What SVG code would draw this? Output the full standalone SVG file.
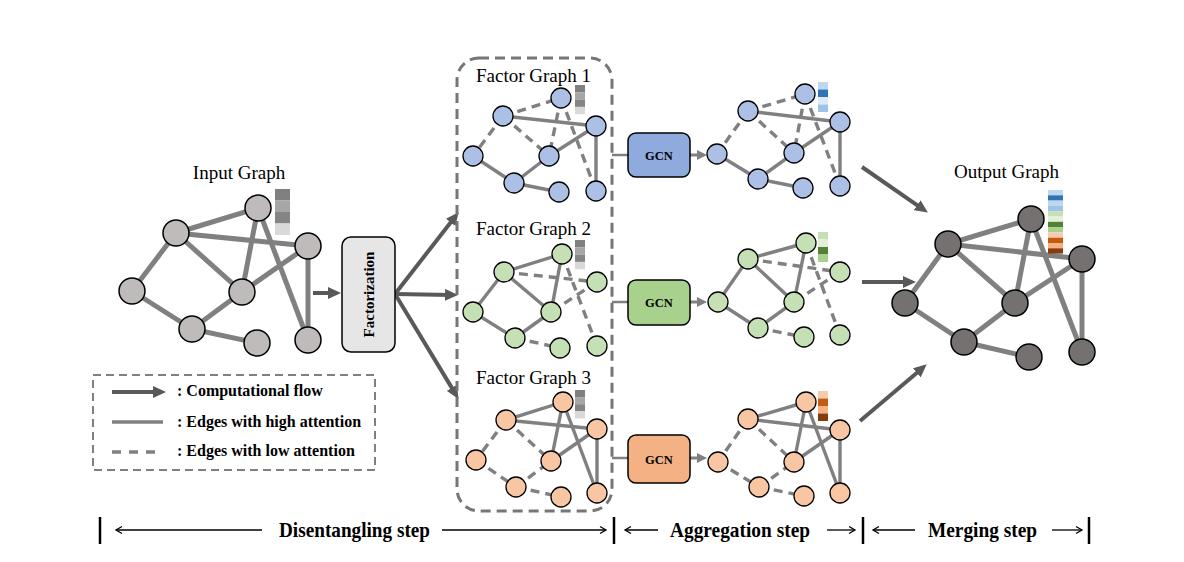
<svg xmlns="http://www.w3.org/2000/svg" width="1184" height="562" viewBox="0 0 1184 562">
<defs>
<style>
.t{font-family:"Liberation Serif","Times New Roman",serif;fill:#000}
.title{font-size:19px;text-anchor:middle}
.b{font-weight:bold}
.eb{stroke:#808080;stroke-width:5;fill:none}
.es{stroke:#808080;stroke-width:3.4;fill:none}
.ed{stroke:#808080;stroke-width:3.4;fill:none;stroke-dasharray:9 6}
.flow{stroke:#595959;stroke-width:4;fill:none;marker-end:url(#ah)}
.gflow{stroke:#808080;stroke-width:3;fill:none;marker-end:url(#gh)}
.thin{stroke:#000;stroke-width:1.3;fill:none}
.ng{fill:#bfbbbb;stroke:#000;stroke-width:1.5}
.no{fill:#767171;stroke:#000;stroke-width:1.5}
.nb{fill:#abc0e4;stroke:#000;stroke-width:1.3}
.nv{fill:#c5e0b4;stroke:#000;stroke-width:1.3}
.nr{fill:#f8c6a3;stroke:#000;stroke-width:1.3}
</style>
<marker id="ah" markerUnits="userSpaceOnUse" markerWidth="14" markerHeight="12" refX="6" refY="6" orient="auto" viewBox="0 0 14 12">
<path d="M0,0 L13,6 L0,12 z" fill="#595959"/>
</marker>
<marker id="gh" markerUnits="userSpaceOnUse" markerWidth="10" markerHeight="10" refX="4.5" refY="5" orient="auto" viewBox="0 0 10 10">
<path d="M0,0 L10,5 L0,10 z" fill="#808080"/>
</marker>
</defs>

<g id="connectors">
<g id="input-edges" class="eb">
<line x1="176" y1="233" x2="258" y2="208"/>
<line x1="176" y1="233" x2="308" y2="246"/>
<line x1="176" y1="233" x2="132" y2="291"/>
<line x1="176" y1="233" x2="242" y2="292"/>
<line x1="258" y1="208" x2="242" y2="292"/>
<line x1="258" y1="208" x2="308" y2="340"/>
<line x1="308" y1="246" x2="242" y2="292"/>
<line x1="308" y1="246" x2="308" y2="340"/>
<line x1="132" y1="291" x2="192" y2="329"/>
<line x1="192" y1="329" x2="242" y2="292"/>
<line x1="192" y1="329" x2="257" y2="343"/>
</g>
<g id="output-edges" class="eb">
<line x1="948" y1="244" x2="1031" y2="219"/>
<line x1="948" y1="244" x2="1082" y2="259"/>
<line x1="948" y1="244" x2="905" y2="303"/>
<line x1="948" y1="244" x2="1015" y2="303"/>
<line x1="1031" y1="219" x2="1015" y2="303"/>
<line x1="1031" y1="219" x2="1082" y2="352"/>
<line x1="1082" y1="259" x2="1015" y2="303"/>
<line x1="1082" y1="259" x2="1082" y2="352"/>
<line x1="905" y1="303" x2="964" y2="342"/>
<line x1="964" y1="342" x2="1015" y2="303"/>
<line x1="964" y1="342" x2="1029" y2="357"/>
</g>
<g id="fg1-edges">
<line class="ed" x1="503" y1="116" x2="561" y2="98"/>
<line class="es" x1="503" y1="116" x2="596" y2="126"/>
<line class="ed" x1="503" y1="116" x2="473" y2="156"/>
<line class="ed" x1="503" y1="116" x2="549" y2="156"/>
<line class="ed" x1="561" y1="98" x2="549" y2="156"/>
<line class="ed" x1="561" y1="98" x2="596" y2="191"/>
<line class="es" x1="596" y1="126" x2="549" y2="156"/>
<line class="es" x1="596" y1="126" x2="596" y2="191"/>
<line class="es" x1="473" y1="156" x2="514" y2="183"/>
<line class="es" x1="514" y1="183" x2="549" y2="156"/>
<line class="es" x1="514" y1="183" x2="559" y2="192"/>
</g>
<g id="fg2-edges">
<line class="es" x1="504" y1="272" x2="562" y2="254"/>
<line class="ed" x1="504" y1="272" x2="597" y2="282"/>
<line class="es" x1="504" y1="272" x2="473" y2="312"/>
<line class="es" x1="504" y1="272" x2="551" y2="312"/>
<line class="es" x1="562" y1="254" x2="551" y2="312"/>
<line class="ed" x1="562" y1="254" x2="597" y2="346"/>
<line class="ed" x1="597" y1="282" x2="551" y2="312"/>
<line class="es" x1="473" y1="312" x2="515" y2="338"/>
<line class="es" x1="515" y1="338" x2="551" y2="312"/>
<line class="ed" x1="515" y1="338" x2="560" y2="348"/>
</g>
<g id="fg3-edges">
<line class="es" x1="506" y1="420" x2="563" y2="402"/>
<line class="es" x1="506" y1="420" x2="597" y2="429"/>
<line class="ed" x1="506" y1="420" x2="476" y2="460"/>
<line class="ed" x1="506" y1="420" x2="551" y2="461"/>
<line class="es" x1="563" y1="402" x2="551" y2="461"/>
<line class="es" x1="563" y1="402" x2="597" y2="493"/>
<line class="es" x1="597" y1="429" x2="551" y2="461"/>
<line class="es" x1="597" y1="429" x2="597" y2="493"/>
<line class="ed" x1="476" y1="460" x2="516" y2="487"/>
<line class="ed" x1="516" y1="487" x2="551" y2="461"/>
<line class="ed" x1="516" y1="487" x2="561" y2="497"/>
</g>
<g id="agg1-edges">
<line class="ed" x1="748" y1="111" x2="805" y2="94"/>
<line class="es" x1="748" y1="111" x2="840" y2="122"/>
<line class="ed" x1="748" y1="111" x2="717" y2="154"/>
<line class="ed" x1="748" y1="111" x2="794" y2="153"/>
<line class="ed" x1="805" y1="94" x2="794" y2="153"/>
<line class="ed" x1="805" y1="94" x2="840" y2="186"/>
<line class="es" x1="840" y1="122" x2="794" y2="153"/>
<line class="es" x1="840" y1="122" x2="840" y2="186"/>
<line class="es" x1="717" y1="154" x2="758" y2="179"/>
<line class="es" x1="758" y1="179" x2="794" y2="153"/>
<line class="es" x1="758" y1="179" x2="803" y2="188"/>
</g>
<g id="agg2-edges">
<line class="es" x1="748" y1="259" x2="806" y2="243"/>
<line class="ed" x1="748" y1="259" x2="840" y2="272"/>
<line class="es" x1="748" y1="259" x2="718" y2="302"/>
<line class="es" x1="748" y1="259" x2="794" y2="302"/>
<line class="es" x1="806" y1="243" x2="794" y2="302"/>
<line class="ed" x1="806" y1="243" x2="840" y2="335"/>
<line class="ed" x1="840" y1="272" x2="794" y2="302"/>
<line class="es" x1="718" y1="302" x2="758" y2="328"/>
<line class="es" x1="758" y1="328" x2="794" y2="302"/>
<line class="ed" x1="758" y1="328" x2="804" y2="337"/>
</g>
<g id="agg3-edges">
<line class="es" x1="748" y1="419" x2="806" y2="402"/>
<line class="es" x1="748" y1="419" x2="840" y2="430"/>
<line class="ed" x1="748" y1="419" x2="718" y2="462"/>
<line class="ed" x1="748" y1="419" x2="794" y2="462"/>
<line class="es" x1="806" y1="402" x2="794" y2="462"/>
<line class="es" x1="806" y1="402" x2="840" y2="493"/>
<line class="es" x1="840" y1="430" x2="794" y2="462"/>
<line class="es" x1="840" y1="430" x2="840" y2="493"/>
<line class="ed" x1="718" y1="462" x2="759" y2="487"/>
<line class="ed" x1="759" y1="487" x2="794" y2="462"/>
<line class="ed" x1="759" y1="487" x2="804" y2="496"/>
</g>
<g id="flow-arrows">
<line class="flow" x1="313" y1="293" x2="334" y2="293"/>
<line class="flow" x1="395" y1="294" x2="454.3" y2="217.7"/>
<line class="flow" x1="395" y1="294" x2="451" y2="295"/>
<line class="flow" x1="395" y1="294" x2="454.9" y2="392.9"/>
<line class="flow" x1="862" y1="167" x2="922.1" y2="208.6"/>
<line class="flow" x1="862" y1="282" x2="909" y2="282"/>
<line class="flow" x1="860" y1="421" x2="921.4" y2="368.9"/>
</g>
<g id="gcn-links">
<line stroke="#808080" stroke-width="2.5" x1="612" y1="155" x2="628" y2="155"/>
<line stroke="#808080" stroke-width="2.5" x1="612" y1="302" x2="628" y2="302"/>
<line stroke="#808080" stroke-width="2.5" x1="612" y1="458" x2="628" y2="458"/>
<line class="gflow" x1="690" y1="155" x2="701.5" y2="155"/>
<line class="gflow" x1="690" y1="302" x2="701.5" y2="302"/>
<line class="gflow" x1="690" y1="458" x2="701.5" y2="458"/>
</g>
</g>

<g id="input-graph">
<text class="t title" x="239" y="179">Input Graph</text>
<circle id="in-A" class="ng" cx="176" cy="233" r="13"/>
<circle id="in-B" class="ng" cx="258" cy="208" r="13"/>
<circle id="in-C" class="ng" cx="308" cy="246" r="13"/>
<circle id="in-D" class="ng" cx="132" cy="291" r="13"/>
<circle id="in-E" class="ng" cx="242" cy="292" r="13"/>
<circle id="in-F" class="ng" cx="192" cy="329" r="13"/>
<circle id="in-G" class="ng" cx="257" cy="343" r="13"/>
<circle id="in-H" class="ng" cx="308" cy="340" r="13"/>
<rect x="275" y="189" width="15" height="11.5" fill="#808080"/>
<rect x="275" y="200.5" width="15" height="11.5" fill="#a6a6a6"/>
<rect x="275" y="212" width="15" height="11.5" fill="#858585"/>
<rect x="275" y="223.5" width="15" height="11.5" fill="#d9d9d9"/>
</g>

<g id="factorization">
<rect x="342" y="237" width="53" height="115" rx="9" fill="#e7e6e6" stroke="#000" stroke-width="1.5"/>
<text class="t b" font-size="15" text-anchor="middle" transform="translate(373.5,294.5) rotate(-90)">Factorization</text>
</g>

<g id="factor-box">
<rect x="457" y="58" width="155" height="453" rx="22" fill="none" stroke="#767676" stroke-width="3" stroke-dasharray="10 6"/>
</g>

<g id="factor-graph-1">
<text class="t title" x="533.5" y="82">Factor Graph 1</text>
<circle class="nb" cx="503" cy="116" r="10"/>
<circle class="nb" cx="561" cy="98" r="10"/>
<circle class="nb" cx="596" cy="126" r="10"/>
<circle class="nb" cx="473" cy="156" r="10"/>
<circle class="nb" cx="549" cy="156" r="10"/>
<circle class="nb" cx="514" cy="183" r="10"/>
<circle class="nb" cx="559" cy="192" r="10"/>
<circle class="nb" cx="596" cy="191" r="10"/>
<rect x="575" y="85" width="10" height="7.3" fill="#808080"/>
<rect x="575" y="92.3" width="10" height="7.3" fill="#a6a6a6"/>
<rect x="575" y="99.6" width="10" height="7.3" fill="#858585"/>
<rect x="575" y="106.9" width="10" height="7.3" fill="#d9d9d9"/>
</g>

<g id="factor-graph-2">
<text class="t title" x="533.5" y="235">Factor Graph 2</text>
<circle class="nv" cx="504" cy="272" r="10"/>
<circle class="nv" cx="562" cy="254" r="10"/>
<circle class="nv" cx="597" cy="282" r="10"/>
<circle class="nv" cx="473" cy="312" r="10"/>
<circle class="nv" cx="551" cy="312" r="10"/>
<circle class="nv" cx="515" cy="338" r="10"/>
<circle class="nv" cx="560" cy="348" r="10"/>
<circle class="nv" cx="597" cy="346" r="10"/>
<rect x="575" y="240" width="10" height="7.3" fill="#808080"/>
<rect x="575" y="247.3" width="10" height="7.3" fill="#a6a6a6"/>
<rect x="575" y="254.6" width="10" height="7.3" fill="#858585"/>
<rect x="575" y="261.9" width="10" height="7.3" fill="#d9d9d9"/>
</g>

<g id="factor-graph-3">
<text class="t title" x="533.5" y="384">Factor Graph 3</text>
<circle class="nr" cx="506" cy="420" r="10"/>
<circle class="nr" cx="563" cy="402" r="10"/>
<circle class="nr" cx="597" cy="429" r="10"/>
<circle class="nr" cx="476" cy="460" r="10"/>
<circle class="nr" cx="551" cy="461" r="10"/>
<circle class="nr" cx="516" cy="487" r="10"/>
<circle class="nr" cx="561" cy="497" r="10"/>
<circle class="nr" cx="597" cy="493" r="10"/>
<rect x="575" y="390" width="10" height="7.1" fill="#808080"/>
<rect x="575" y="397.1" width="10" height="7.1" fill="#a6a6a6"/>
<rect x="575" y="404.2" width="10" height="7.1" fill="#858585"/>
<rect x="575" y="411.3" width="10" height="7.1" fill="#d9d9d9"/>
</g>

<g id="gcn-1">
<rect x="628" y="133" width="62" height="44" rx="8" fill="#8faadc" stroke="#000" stroke-width="1.5"/>
<text class="t b" font-size="12.5" x="659" y="159.5" text-anchor="middle">GCN</text>
</g>
<g id="gcn-2">
<rect x="628" y="280" width="62" height="45" rx="8" fill="#a9d18e" stroke="#000" stroke-width="1.5"/>
<text class="t b" font-size="12.5" x="659" y="307" text-anchor="middle">GCN</text>
</g>
<g id="gcn-3">
<rect x="628" y="435" width="62" height="48" rx="8" fill="#f4b183" stroke="#000" stroke-width="1.5"/>
<text class="t b" font-size="12.5" x="659" y="463.5" text-anchor="middle">GCN</text>
</g>

<g id="agg-graph-1">
<circle class="nb" cx="748" cy="111" r="10"/>
<circle class="nb" cx="805" cy="94" r="10"/>
<circle class="nb" cx="840" cy="122" r="10"/>
<circle class="nb" cx="717" cy="154" r="10"/>
<circle class="nb" cx="794" cy="153" r="10"/>
<circle class="nb" cx="758" cy="179" r="10"/>
<circle class="nb" cx="803" cy="188" r="10"/>
<circle class="nb" cx="840" cy="186" r="10"/>
<rect x="818" y="82" width="10" height="7.5" fill="#bdd7ee"/>
<rect x="818" y="89.5" width="10" height="7.5" fill="#2e75b6"/>
<rect x="818" y="97" width="10" height="7.5" fill="#deebf7"/>
<rect x="818" y="104.5" width="10" height="7.5" fill="#9dc3e6"/>
</g>
<g id="agg-graph-2">
<circle class="nv" cx="748" cy="259" r="10"/>
<circle class="nv" cx="806" cy="243" r="10"/>
<circle class="nv" cx="840" cy="272" r="10"/>
<circle class="nv" cx="718" cy="302" r="10"/>
<circle class="nv" cx="794" cy="302" r="10"/>
<circle class="nv" cx="758" cy="328" r="10"/>
<circle class="nv" cx="804" cy="337" r="10"/>
<circle class="nv" cx="840" cy="335" r="10"/>
<rect x="818" y="232" width="10" height="7.5" fill="#c5e0b4"/>
<rect x="818" y="239.5" width="10" height="7.5" fill="#e2f0d9"/>
<rect x="818" y="247" width="10" height="7.5" fill="#548235"/>
<rect x="818" y="254.5" width="10" height="7.5" fill="#a9d18e"/>
</g>
<g id="agg-graph-3">
<circle class="nr" cx="748" cy="419" r="10"/>
<circle class="nr" cx="806" cy="402" r="10"/>
<circle class="nr" cx="840" cy="430" r="10"/>
<circle class="nr" cx="718" cy="462" r="10"/>
<circle class="nr" cx="794" cy="462" r="10"/>
<circle class="nr" cx="759" cy="487" r="10"/>
<circle class="nr" cx="804" cy="496" r="10"/>
<circle class="nr" cx="840" cy="493" r="10"/>
<rect x="818" y="391" width="10" height="7.5" fill="#f8cbad"/>
<rect x="818" y="398.5" width="10" height="7.5" fill="#c55a11"/>
<rect x="818" y="406" width="10" height="7.5" fill="#f4b183"/>
<rect x="818" y="413.5" width="10" height="7.5" fill="#843c0c"/>
</g>

<g id="output-graph">
<text class="t title" x="1006.5" y="178">Output Graph</text>
<circle class="no" cx="948" cy="244" r="13"/>
<circle class="no" cx="1031" cy="219" r="13"/>
<circle class="no" cx="1082" cy="259" r="13"/>
<circle class="no" cx="905" cy="303" r="13"/>
<circle class="no" cx="1015" cy="303" r="13"/>
<circle class="no" cx="964" cy="342" r="13"/>
<circle class="no" cx="1029" cy="357" r="13"/>
<circle class="no" cx="1082" cy="352" r="13"/>
<rect x="1048" y="190" width="15" height="5.3" fill="#bdd7ee"/>
<rect x="1048" y="195.3" width="15" height="5.3" fill="#2e75b6"/>
<rect x="1048" y="200.6" width="15" height="5.3" fill="#bdd7ee"/>
<rect x="1048" y="205.9" width="15" height="5.3" fill="#9dc3e6"/>
<rect x="1048" y="211.2" width="15" height="5.3" fill="#c5e0b4"/>
<rect x="1048" y="216.5" width="15" height="5.3" fill="#e2f0d9"/>
<rect x="1048" y="221.8" width="15" height="5.3" fill="#548235"/>
<rect x="1048" y="227.1" width="15" height="5.3" fill="#a9d18e"/>
<rect x="1048" y="232.4" width="15" height="5.3" fill="#f8cbad"/>
<rect x="1048" y="237.7" width="15" height="5.3" fill="#c55a11"/>
<rect x="1048" y="243" width="15" height="5.3" fill="#f4b183"/>
<rect x="1048" y="248.3" width="15" height="5.3" fill="#843c0c"/>
</g>

<g id="legend">
<rect x="93" y="375" width="282" height="95" fill="none" stroke="#808080" stroke-width="2" stroke-dasharray="8 5"/>
<line class="flow" x1="112" y1="392" x2="159" y2="392"/>
<line stroke="#808080" stroke-width="3.5" x1="112" y1="422" x2="163" y2="422"/>
<line stroke="#808080" stroke-width="3.5" stroke-dasharray="9 8" x1="112" y1="452" x2="163" y2="452"/>
<text class="t b" font-size="16" x="177" y="396">: Computational flow</text>
<text class="t b" font-size="16" x="177" y="427">: Edges with high attention</text>
<text class="t b" font-size="16" x="177" y="456">: Edges with low attention</text>
</g>

<g id="steps">
<g stroke="#000" stroke-width="2.5">
<line x1="100" y1="517" x2="100" y2="544"/>
<line x1="614" y1="517" x2="614" y2="544"/>
<line x1="863" y1="517" x2="863" y2="544"/>
<line x1="1089" y1="517" x2="1089" y2="544"/>
</g>
<g class="thin">
<line x1="116" y1="530" x2="262" y2="530"/>
<path d="M122,526.5 L116,530 L122,533.5"/>
<line x1="442" y1="530" x2="606" y2="530"/>
<path d="M600,526.5 L606,530 L600,533.5"/>
<line x1="625" y1="530" x2="658" y2="530"/>
<path d="M631,526.5 L625,530 L631,533.5"/>
<line x1="827" y1="530" x2="855" y2="530"/>
<path d="M849,526.5 L855,530 L849,533.5"/>
<line x1="873" y1="530" x2="915" y2="530"/>
<path d="M879,526.5 L873,530 L879,533.5"/>
<line x1="1052" y1="530" x2="1082" y2="530"/>
<path d="M1076,526.5 L1082,530 L1076,533.5"/>
</g>
<text class="t b" font-size="21" x="279" y="537" textLength="151" lengthAdjust="spacingAndGlyphs">Disentangling step</text>
<text class="t b" font-size="21" x="670" y="537" textLength="140" lengthAdjust="spacingAndGlyphs">Aggregation step</text>
<text class="t b" font-size="21" x="928" y="537" textLength="109" lengthAdjust="spacingAndGlyphs">Merging step</text>
</g>
</svg>
